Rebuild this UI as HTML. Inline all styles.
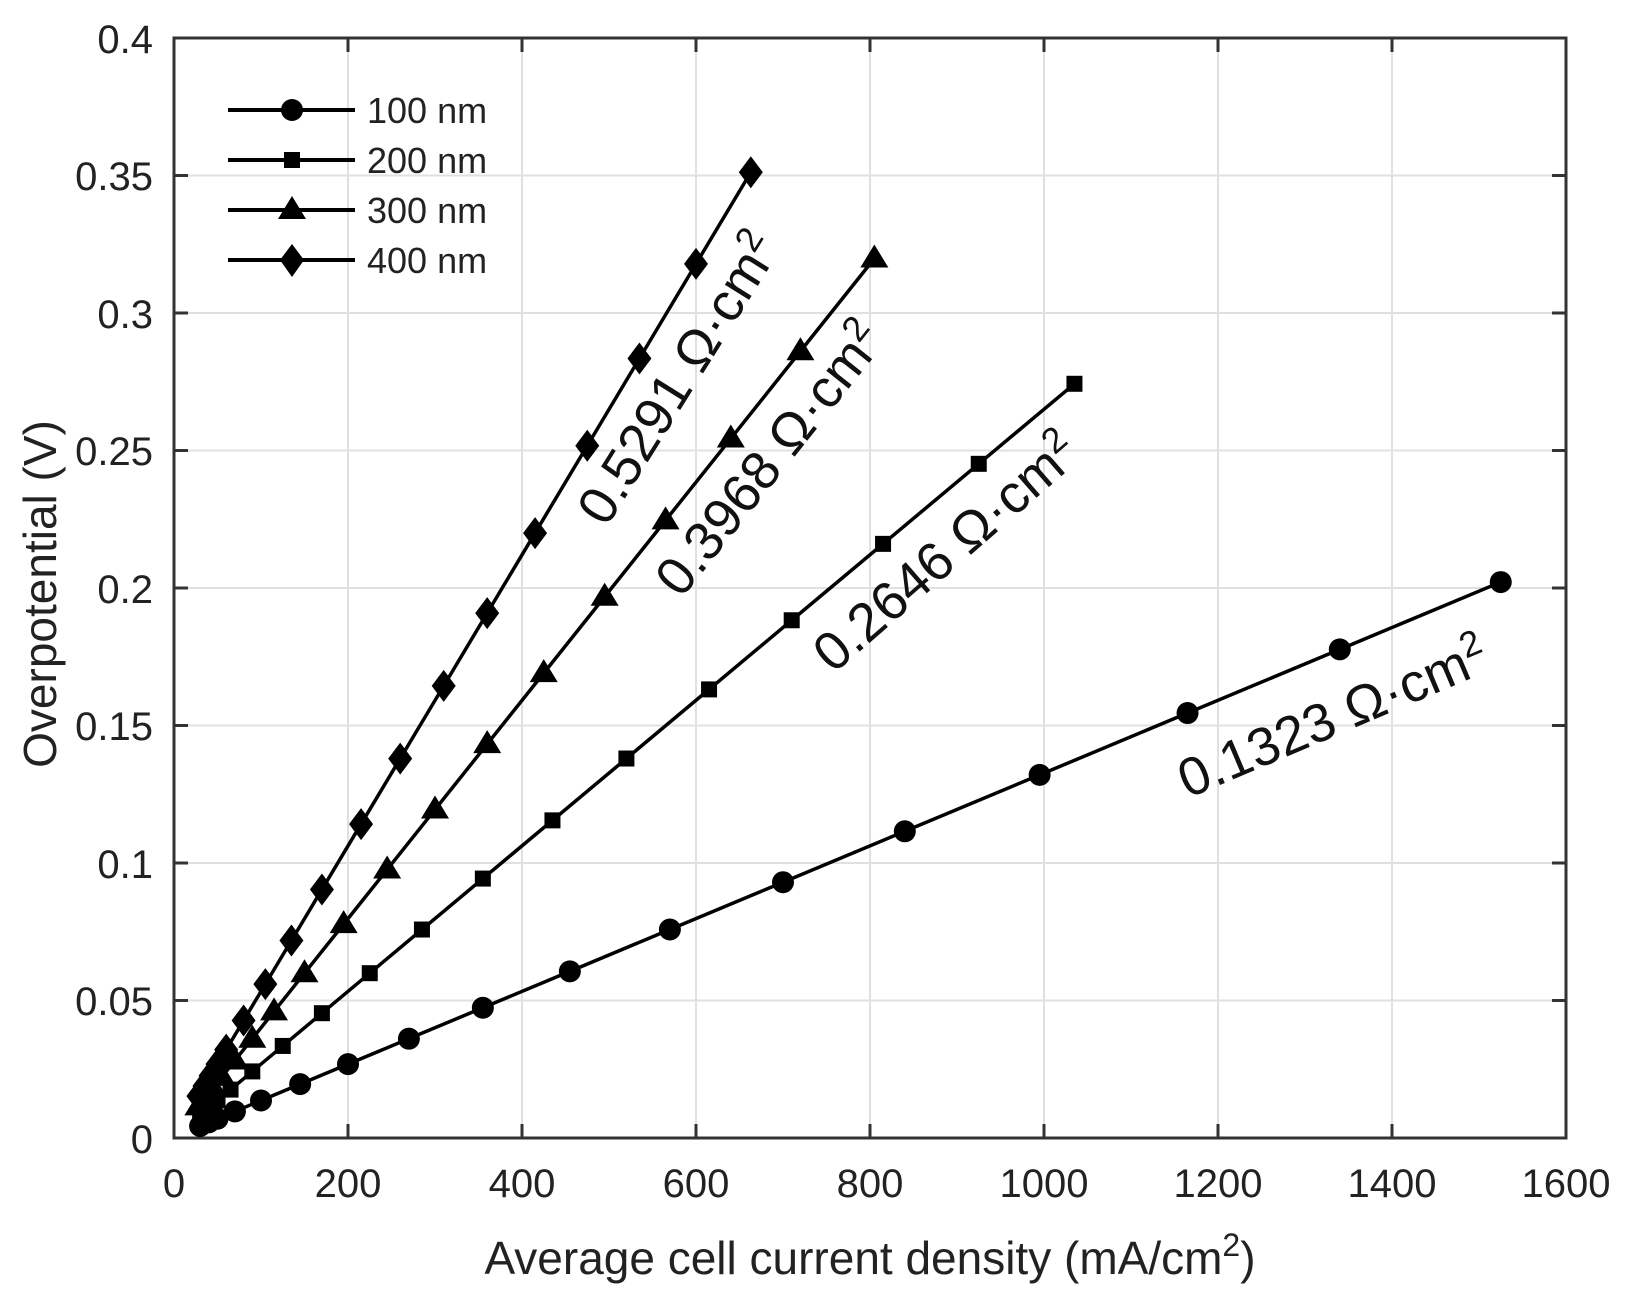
<!DOCTYPE html>
<html><head><meta charset="utf-8"><style>html,body{margin:0;padding:0;background:#fff}svg{display:block}</style></head>
<body>
<svg width="1626" height="1299" viewBox="0 0 1626 1299" xmlns="http://www.w3.org/2000/svg" font-family="Liberation Sans, Arial, sans-serif">
<rect width="1626" height="1299" fill="#fff"/>
<g stroke="#e0e0e0" stroke-width="2">
<line x1="348" y1="38" x2="348" y2="1138"/><line x1="522" y1="38" x2="522" y2="1138"/><line x1="696" y1="38" x2="696" y2="1138"/><line x1="870" y1="38" x2="870" y2="1138"/><line x1="1044" y1="38" x2="1044" y2="1138"/><line x1="1218" y1="38" x2="1218" y2="1138"/><line x1="1392" y1="38" x2="1392" y2="1138"/>
<line x1="174" y1="175.5" x2="1566" y2="175.5"/><line x1="174" y1="313" x2="1566" y2="313"/><line x1="174" y1="450.5" x2="1566" y2="450.5"/><line x1="174" y1="588" x2="1566" y2="588"/><line x1="174" y1="725.5" x2="1566" y2="725.5"/><line x1="174" y1="863" x2="1566" y2="863"/><line x1="174" y1="1000.5" x2="1566" y2="1000.5"/>
</g>
<rect x="174" y="38" width="1392" height="1100" fill="none" stroke="#333" stroke-width="3"/>
<g stroke="#333" stroke-width="3">
<path d="M348 1138v-14M522 1138v-14M696 1138v-14M870 1138v-14M1044 1138v-14M1218 1138v-14M1392 1138v-14M348 38v14M522 38v14M696 38v14M870 38v14M1044 38v14M1218 38v14M1392 38v14"/>
<path d="M174 175.5h14M174 313h14M174 450.5h14M174 588h14M174 725.5h14M174 863h14M174 1000.5h14M1566 175.5h-14M1566 313h-14M1566 450.5h-14M1566 588h-14M1566 725.5h-14M1566 863h-14M1566 1000.5h-14"/>
</g>
<g font-size="40" fill="#222" text-anchor="end">
<text x="153" y="53">0.4</text><text x="153" y="190">0.35</text><text x="153" y="328">0.3</text><text x="153" y="465">0.25</text><text x="153" y="603">0.2</text><text x="153" y="740">0.15</text><text x="153" y="878">0.1</text><text x="153" y="1015">0.05</text><text x="153" y="1153">0</text>
</g>
<g font-size="40" fill="#222" text-anchor="middle">
<text x="174" y="1197">0</text><text x="348" y="1197">200</text><text x="522" y="1197">400</text><text x="696" y="1197">600</text><text x="870" y="1197">800</text><text x="1044" y="1197">1000</text><text x="1218" y="1197">1200</text><text x="1392" y="1197">1400</text><text x="1566" y="1197">1600</text>
</g>
<text x="870" y="1274" font-size="46" fill="#222" text-anchor="middle">Average cell current density (mA/cm<tspan dy="-18" font-size="32">2</tspan><tspan dy="18">)</tspan></text>
<text transform="translate(56,594) rotate(-90)" font-size="46" fill="#222" text-anchor="middle">Overpotential (V)</text>
<g id="plot"></g>
<g font-size="54" fill="#111" text-anchor="middle">
<text transform="translate(694,388) rotate(-58)">0.5291 Ω·cm<tspan dy="-20" font-size="36">2</tspan></text>
<text transform="translate(784,470) rotate(-51.5)">0.3968 Ω·cm<tspan dy="-20" font-size="36">2</tspan></text>
<text transform="translate(958,566) rotate(-41)">0.2646 Ω·cm<tspan dy="-20" font-size="36">2</tspan></text>
<text transform="translate(1340,734) rotate(-23)">0.1323 Ω·cm<tspan dy="-20" font-size="36">2</tspan></text>
</g>
<g stroke="#000" stroke-width="4"><path d="M228 110h127M228 160h127M228 210h127M228 260h127"/></g>
<circle cx="292" cy="110" r="11" fill="#000"/>
<rect x="284" y="152" width="16" height="16" fill="#000"/>
<polygon points="292,196 306,219 278,219" fill="#000"/>
<polygon points="292,244 304,260 292,277 280,260" fill="#000"/>
<g font-size="36" fill="#222"><text x="367" y="123">100 nm</text><text x="367" y="173">200 nm</text><text x="367" y="223">300 nm</text><text x="367" y="273">400 nm</text></g>
<script>
(function(){
var g=document.getElementById('plot'),NS='http://www.w3.org/2000/svg';
function X(v){return 174+v*0.87}function Y(v){return 1138-v*2750}
var S=[
{k:0.1323,m:'c',x:[30,40,50,70,100,145,200,270,355,455,570,700,840,995,1165,1340,1525]},
{k:0.2646,m:'s',x:[30,40,50,65,90,125,170,225,285,355,435,520,615,710,815,925,1035]},
{k:0.3968,m:'t',x:[28,35,45,55,70,90,115,150,195,245,300,360,425,495,565,640,720,805]},
{k:0.5291,m:'d',x:[28,35,42,50,60,80,105,135,170,215,260,310,360,415,475,535,600,663]}];
S.forEach(function(s){
 var pts=s.x.map(function(x){return [X(x),Y(s.k*x/1000+0.0004)]});
 var p=document.createElementNS(NS,'polyline');
 p.setAttribute('points',pts.map(function(q){return q.join(',')}).join(' '));
 p.setAttribute('fill','none');p.setAttribute('stroke','#000');p.setAttribute('stroke-width','3.5');
 g.appendChild(p);
 pts.forEach(function(q){var e,x=q[0],y=q[1];
  if(s.m=='c'){e=document.createElementNS(NS,'circle');e.setAttribute('cx',x);e.setAttribute('cy',y);e.setAttribute('r',11);}
  else if(s.m=='s'){e=document.createElementNS(NS,'rect');e.setAttribute('x',x-8);e.setAttribute('y',y-8);e.setAttribute('width',16);e.setAttribute('height',16);}
  else if(s.m=='t'){e=document.createElementNS(NS,'polygon');e.setAttribute('points',[x,y-14,x+14,y+9,x-14,y+9].join(' '));}
  else {e=document.createElementNS(NS,'polygon');e.setAttribute('points',[x,y-16,x+12,y,x,y+16,x-12,y].join(' '));}
  e.setAttribute('fill','#000');g.appendChild(e);});
});
})();
</script>
</svg>
</body></html>
